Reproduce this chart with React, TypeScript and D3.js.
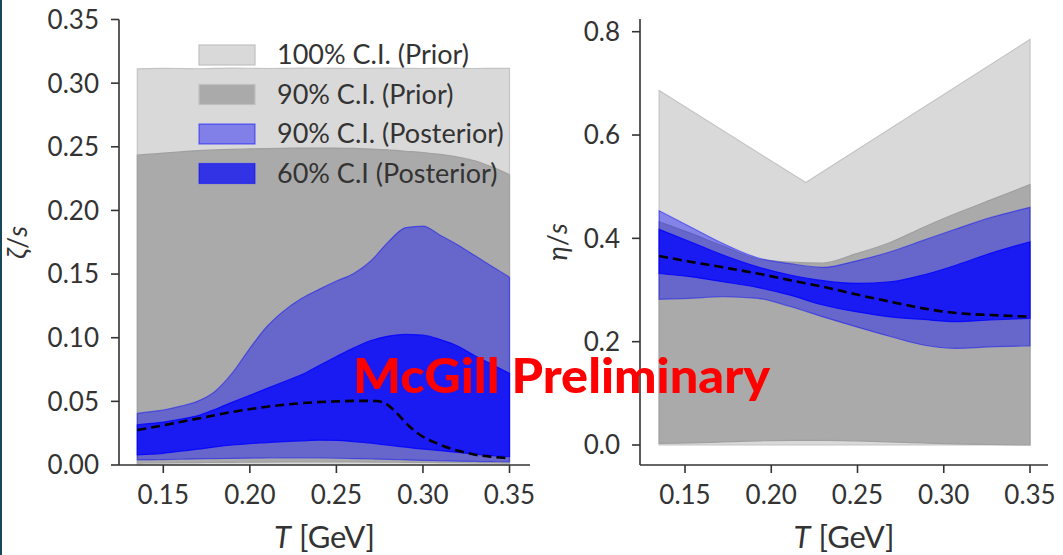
import React from 'react';
import * as d3 from 'd3';

// ---------- Left panel: zeta/s ----------
const zetaT = [0.135, 0.14, 0.15, 0.16, 0.17, 0.18, 0.19, 0.20, 0.21, 0.22, 0.23, 0.24, 0.25, 0.26, 0.27, 0.28, 0.29, 0.30, 0.31, 0.32, 0.33, 0.34, 0.35];
const zetaPrior100Hi = [0.3112, 0.3114, 0.3116, 0.3115, 0.3113, 0.3116, 0.3118, 0.3117, 0.3115, 0.3116, 0.3118, 0.3117, 0.3116, 0.3115, 0.3117, 0.3118, 0.3116, 0.3115, 0.3117, 0.3116, 0.3115, 0.3116, 0.3117];
const zetaPrior100Lo = [0, 0, 0, 0, 0, 0, 0, 0, 0, 0, 0, 0, 0, 0, 0, 0, 0, 0, 0, 0, 0, 0, 0];
const zetaPrior90Hi = [0.2435, 0.244, 0.245, 0.246, 0.247, 0.2475, 0.248, 0.2483, 0.2486, 0.2488, 0.249, 0.249, 0.249, 0.2487, 0.2482, 0.2475, 0.2465, 0.2455, 0.244, 0.242, 0.239, 0.234, 0.228];
const zetaPrior90Lo = [0.0015, 0.0016, 0.0017, 0.0018, 0.0019, 0.002, 0.0021, 0.0022, 0.0023, 0.0024, 0.0025, 0.0025, 0.0025, 0.0024, 0.0023, 0.0022, 0.0021, 0.002, 0.0019, 0.0018, 0.0017, 0.0016, 0.0015];
const zetaPost90Hi = [0.0405, 0.0415, 0.0432, 0.0462, 0.0502, 0.058, 0.0725, 0.0917, 0.109, 0.1215, 0.131, 0.138, 0.1445, 0.1505, 0.1605, 0.1753, 0.1865, 0.1877, 0.1805, 0.173, 0.1645, 0.156, 0.1475];
const zetaPost90Lo = [0.004, 0.004, 0.0042, 0.0045, 0.0048, 0.005, 0.0052, 0.0054, 0.0055, 0.0056, 0.0056, 0.0055, 0.0053, 0.005, 0.0047, 0.0044, 0.004, 0.0036, 0.0033, 0.003, 0.0028, 0.0026, 0.0025];
const zetaPost60Hi = [0.0316, 0.0323, 0.0337, 0.036, 0.0388, 0.0438, 0.0494, 0.0548, 0.0602, 0.0656, 0.071, 0.0782, 0.0852, 0.092, 0.0978, 0.1013, 0.1026, 0.102, 0.0985, 0.0935, 0.0858, 0.079, 0.072];
const zetaPost60Lo = [0.0079, 0.0083, 0.0092, 0.0108, 0.0124, 0.0142, 0.0157, 0.0168, 0.0176, 0.0184, 0.019, 0.0195, 0.0193, 0.0184, 0.0172, 0.0155, 0.014, 0.0125, 0.0113, 0.0099, 0.0086, 0.0074, 0.0065];
const zetaMedianT = [0.135, 0.15, 0.17, 0.19, 0.21, 0.23, 0.25, 0.265, 0.273, 0.279, 0.285, 0.2924, 0.30, 0.308, 0.3155, 0.323, 0.331, 0.34, 0.35];
const zetaMedian = [0.0275, 0.0312, 0.0365, 0.0417, 0.0458, 0.0486, 0.05, 0.0504, 0.0503, 0.0479, 0.0406, 0.0301, 0.0222, 0.017, 0.0131, 0.0103, 0.0079, 0.0064, 0.0053];
const zetaYTicks = [0, 0.05, 0.10, 0.15, 0.20, 0.25, 0.30, 0.35];

// ---------- Right panel: eta/s ----------
const etaT = [0.135, 0.153, 0.172, 0.192, 0.211, 0.23, 0.249, 0.269, 0.288, 0.307, 0.327, 0.35];
const etaPrior100T = [0.135, 0.22, 0.35];
const etaPrior100Hi = [0.686, 0.508, 0.785];
const etaPrior100Lo = [0, 0, 0];
const etaPrior90Hi = [0.432, 0.41, 0.385, 0.36, 0.354, 0.352, 0.37, 0.392, 0.421, 0.448, 0.474, 0.504];
const etaPrior90Lo = [0.003, 0.004, 0.006, 0.008, 0.009, 0.009, 0.008, 0.006, 0.004, 0.002, 0.001, 0.0];
const etaPost90Hi = [0.4535, 0.4225, 0.390, 0.3625, 0.351, 0.344, 0.356, 0.374, 0.396, 0.418, 0.440, 0.460];
const etaPost90Lo = [0.282, 0.284, 0.287, 0.284, 0.268, 0.248, 0.229, 0.21, 0.1935, 0.187, 0.19, 0.1916];
const etaPost60Hi = [0.4174, 0.3935, 0.3677, 0.345, 0.329, 0.318, 0.313, 0.316, 0.329, 0.348, 0.371, 0.3935];
const etaPost60Lo = [0.332, 0.3258, 0.316, 0.305, 0.29, 0.271, 0.258, 0.248, 0.243, 0.2387, 0.242, 0.245];
const etaMedian = [0.3658, 0.3548, 0.3439, 0.332, 0.319, 0.3064, 0.2916, 0.2774, 0.2645, 0.2555, 0.2516, 0.2484];
const etaYTicks = [0, 0.2, 0.4, 0.6, 0.8];

const xTicks = [0.15, 0.20, 0.25, 0.30, 0.35];
const legendLabels = ['100% C.I. (Prior)', '90% C.I. (Prior)', '90% C.I. (Posterior)', '60% C.I (Posterior)'];
const legendColors = ['#d9d9d9', '#aaaaaa', '#8080e8', '#3333e6'];

const FONT = 'Lato, "Open Sans", sans-serif';
const AX = '#333333';

type Band = { t: number[]; lo: number[]; hi: number[]; fill: string; stroke: string; curve: any };

function Panel(props: {
  x: d3.ScaleLinear<number, number>;
  y: d3.ScaleLinear<number, number>;
  yTop: number;
  yBottom: number;
  yTicks: number[];
  yFmt: string;
  bands: Band[];
  medT: number[];
  med: number[];
  ylabel: React.ReactNode;
  ylabelX: number;
}) {
  const { x, y, yTicks, bands } = props;
  const [x0, x1] = x.range();
  const axisY = props.yBottom;
  const yfmt = d3.format(props.yFmt);
  const xfmt = d3.format('.2f');
  const line = d3.line<number>().x((_, i) => x(props.medT[i])).y((d) => y(d)).curve(d3.curveMonotoneX);
  const yMid = (props.yTop + props.yBottom) / 2;
  return (
    <g>
      {bands.map((b, bi) => {
        const area = d3
          .area<number>()
          .x((_, i) => x(b.t[i]))
          .y0((_, i) => y(b.lo[i]))
          .y1((d) => y(d))
          .curve(b.curve);
        return <path key={bi} d={area(b.hi) || ''} fill={b.fill} stroke={b.stroke} strokeWidth={1.2} />;
      })}
      <path d={line(props.med) || ''} fill="none" stroke="#000" strokeWidth={2.6} strokeDasharray="9,5" />
      <line x1={x0} x2={x0} y1={props.yTop} y2={props.yBottom} stroke={AX} strokeWidth={1.6} />
      <line x1={x0} x2={x1} y1={axisY} y2={axisY} stroke={AX} strokeWidth={1.6} />
      {yTicks.map((v) => (
        <g key={'y' + v}>
          <line x1={x0 - 8} x2={x0} y1={y(v)} y2={y(v)} stroke={AX} strokeWidth={1.6} />
          <text x={x0 - 20} y={y(v)} dy="0.36em" textAnchor="end" fontFamily={FONT} fontSize={26} fill={AX}>
            {yfmt(v)}
          </text>
        </g>
      ))}
      {xTicks.map((v) => (
        <g key={'x' + v}>
          <line x1={x(v)} x2={x(v)} y1={axisY} y2={axisY + 8} stroke={AX} strokeWidth={1.6} />
          <text x={x(v)} y={504} textAnchor="middle" fontFamily={FONT} fontSize={26} fill={AX}>
            {xfmt(v)}
          </text>
        </g>
      ))}
      <text x={(x0 + x1) / 2} y={548} textAnchor="middle" fontFamily={FONT} fontSize={31} fill={AX}>
        <tspan fontStyle="italic">T</tspan> [GeV]
      </text>
      <text
        transform={`translate(${props.ylabelX},${yMid}) rotate(-90)`}
        textAnchor="middle"
        dy="0.35em"
        fontFamily={FONT}
        fontSize={27}
        fill={AX}
      >
        {props.ylabel}
      </text>
    </g>
  );
}

export default function App() {
  const xL = d3.scaleLinear().domain([0.12441, 0.36184]).range([119, 530]);
  const yL = d3.scaleLinear().domain([0, 0.35]).range([465, 19.5]);
  const xR = d3.scaleLinear().domain([0.12391, 0.36043]).range([640, 1048]);
  const yR = d3.scaleLinear().domain([0, 0.8]).range([445, 31.7]);

  const c100 = { fill: '#d9d9d9', stroke: '#c4c4c4' };
  const c90p = { fill: '#aaaaaa', stroke: '#a0a0a0' };
  const b90 = { fill: 'rgba(0,0,255,0.394)', stroke: 'rgba(0,0,255,0.45)' };
  const b60 = { fill: 'rgba(0,0,255,0.75)', stroke: 'rgba(0,0,255,0.8)' };
  const mono = d3.curveMonotoneX;

  const leftBands: Band[] = [
    { t: zetaT, lo: zetaPrior100Lo, hi: zetaPrior100Hi, ...c100, curve: mono },
    { t: zetaT, lo: zetaPrior90Lo, hi: zetaPrior90Hi, ...c90p, curve: mono },
    { t: zetaT, lo: zetaPost90Lo, hi: zetaPost90Hi, ...b90, curve: mono },
    { t: zetaT, lo: zetaPost60Lo, hi: zetaPost60Hi, ...b60, curve: mono },
  ];
  const rightBands: Band[] = [
    { t: etaPrior100T, lo: etaPrior100Lo, hi: etaPrior100Hi, ...c100, curve: d3.curveLinear },
    { t: etaT, lo: etaPrior90Lo, hi: etaPrior90Hi, ...c90p, curve: mono },
    { t: etaT, lo: etaPost90Lo, hi: etaPost90Hi, ...b90, curve: mono },
    { t: etaT, lo: etaPost60Lo, hi: etaPost60Hi, ...b60, curve: mono },
  ];

  return (
    <svg
      width={1063}
      height={555}
      style={{ position: 'fixed', left: 0, top: 0, background: '#fff' }}
      xmlns="http://www.w3.org/2000/svg"
    >
      <rect x={0} y={0} width={1063} height={555} fill="#fff" />
      <Panel
        x={xL}
        y={yL}
        yTop={19.5}
        yBottom={465}
        yTicks={zetaYTicks}
        yFmt=".2f"
        bands={leftBands}
        medT={zetaMedianT}
        med={zetaMedian}
        ylabel={<><tspan fontStyle="italic">ζ</tspan>/<tspan fontStyle="italic">s</tspan></>}
        ylabelX={18}
      />
      <Panel
        x={xR}
        y={yR}
        yTop={19}
        yBottom={465}
        yTicks={etaYTicks}
        yFmt=".1f"
        bands={rightBands}
        medT={etaT}
        med={etaMedian}
        ylabel={<><tspan fontStyle="italic">η</tspan>/<tspan fontStyle="italic">s</tspan></>}
        ylabelX={558}
      />
      {legendLabels.map((lab, i) => (
        <g key={lab} transform={`translate(0,${55 + i * 39.5})`}>
          <rect x={199} y={-10} width={56} height={20} fill={legendColors[i]} stroke={i < 2 ? '#c0c0c0' : 'rgba(0,0,255,0.5)'} strokeWidth={1.2} />
          <text x={277} y={0} dy="0.35em" fontFamily={FONT} fontSize={27} fill={AX}>
            {lab}
          </text>
        </g>
      ))}
      <text
        x={353}
        y={393}
        fontFamily={FONT}
        fontWeight={900}
        fontSize={47}
        fill="#ff0000"
        textLength={417}
        lengthAdjust="spacingAndGlyphs"
      >
        McGill Preliminary
      </text>
      <rect x={0} y={0} width={2} height={555} fill="#17475a" />
    </svg>
  );
}
